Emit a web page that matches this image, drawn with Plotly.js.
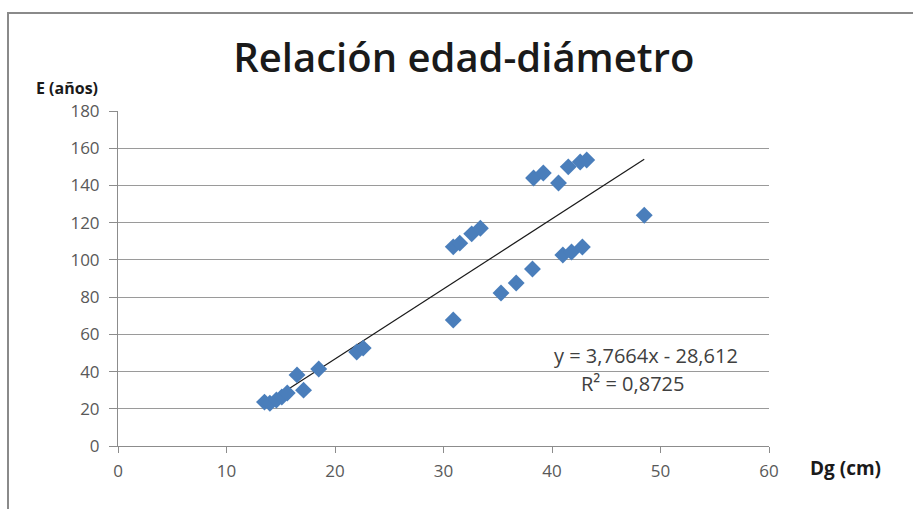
<!DOCTYPE html>
<html>
<head>
<meta charset="utf-8">
<script src="https://cdn.plot.ly/plotly-3.0.1.min.js"></script>
<style>
  html, body { margin: 0; padding: 0; background: #fff; }
  #wrap { position: relative; width: 913px; height: 509px; }
  #chart { position: absolute; left: 0; top: 0; width: 913px; height: 509px; }
  #frame { position: absolute; left: 7px; top: 12px; width: 906px; height: 497px;
           border-top: 2px solid #8a8a8a; border-left: 2px solid #8a8a8a; pointer-events: none; box-sizing: border-box; }
</style>
</head>
<body>
<div id="wrap">
  <div id="chart"></div>
  <div id="frame"></div>
</div>
<script>
// Data
const diametro = [13.5, 14.0, 14.6, 15.1, 15.6, 16.5, 17.1, 18.5, 22.0, 22.6,
                  30.9, 31.5, 32.6, 33.4, 30.9, 35.3, 36.7, 38.2,
                  38.3, 39.2, 40.6, 41.5, 42.6, 43.2,
                  41.0, 41.8, 42.8, 48.5];
const edad = [23.6, 23.0, 24.7, 26.3, 28.5, 38.2, 30.0, 41.4, 50.5, 52.6,
              107, 109, 114, 117, 67.7, 82.2, 87.6, 95.1,
              144, 146.7, 141.3, 150, 152.6, 153.7,
              102.6, 104.2, 106.9, 124];
const pendiente = 3.7664;
const ordenada = -28.612;
const r2Texto = "R² = 0,8725";
const ecuacionTexto = "y = 3,7664x - 28,612";
const xTicks = [0, 10, 20, 30, 40, 50, 60];
const yTicks = [0, 20, 40, 60, 80, 100, 120, 140, 160, 180];

const xMin = Math.min(...diametro), xMax = Math.max(...diametro);
const lineaX = [xMin, xMax];
const lineaY = lineaX.map(x => pendiente * x + ordenada);

const font = "Open Sans, Liberation Sans, sans-serif";

const traces = [
  {
    x: lineaX, y: lineaY, mode: 'lines', type: 'scatter',
    line: { color: '#1a1a1a', width: 1.2 }, hoverinfo: 'skip', showlegend: false
  },
  {
    x: diametro, y: edad, mode: 'markers', type: 'scatter',
    marker: { symbol: 'diamond', size: 13, color: '#4a7ebb', line: { width: 0 } },
    showlegend: false
  }
];

const layout = {
  width: 913, height: 509,
  margin: { l: 118, r: 144, t: 111, b: 63 },
  paper_bgcolor: '#ffffff', plot_bgcolor: '#ffffff',
  showlegend: false,
  title: {
    text: 'Relación edad-diámetro',
    font: { family: font, size: 40, color: '#1a1a1a', weight: 600 },
    x: 0.508, xanchor: 'center', y: 0.886, yanchor: 'middle'
  },
  xaxis: {
    range: [0, 60], tickvals: xTicks, ticktext: xTicks.map(String),
    showgrid: false, zeroline: false,
    showline: true, linecolor: '#8c8c8c', linewidth: 1,
    ticks: 'outside', ticklen: 6, tickcolor: '#8c8c8c',
    ticklabelstandoff: 4,
    tickfont: { family: font, size: 17, color: '#595959' },
    fixedrange: true
  },
  yaxis: {
    range: [0, 180], tickvals: yTicks, ticktext: yTicks.map(String),
    showgrid: true, gridcolor: '#9a9a9a', gridwidth: 1,
    zeroline: false,
    showline: true, linecolor: '#8c8c8c', linewidth: 1,
    ticks: 'outside', ticklen: 8, tickcolor: '#8c8c8c',
    ticklabelstandoff: 6,
    tickfont: { family: font, size: 17, color: '#595959' },
    fixedrange: true
  },
  annotations: [
    { text: '<b>E (años)</b>', xref: 'paper', yref: 'paper', x: -0.129, y: 1.07,
      xanchor: 'left', yanchor: 'middle', showarrow: false,
      font: { family: font, size: 16, color: '#1a1a1a' } },
    { text: '<b>Dg (cm)</b>', xref: 'paper', yref: 'paper', x: 1.06, y: -0.065,
      xanchor: 'left', yanchor: 'middle', showarrow: false,
      font: { family: font, size: 19, color: '#1a1a1a' } },
    { text: ecuacionTexto, xref: 'paper', yref: 'paper', x: 0.955, y: 0.269,
      xanchor: 'right', yanchor: 'middle', showarrow: false,
      font: { family: font, size: 20, color: '#404040' } },
    { text: r2Texto, xref: 'paper', yref: 'paper', x: 0.791, y: 0.188,
      xanchor: 'center', yanchor: 'middle', showarrow: false,
      font: { family: font, size: 20, color: '#404040' } }
  ]
};

Plotly.newPlot('chart', traces, layout, { staticPlot: true, displayModeBar: false });
</script>
</body>
</html>
